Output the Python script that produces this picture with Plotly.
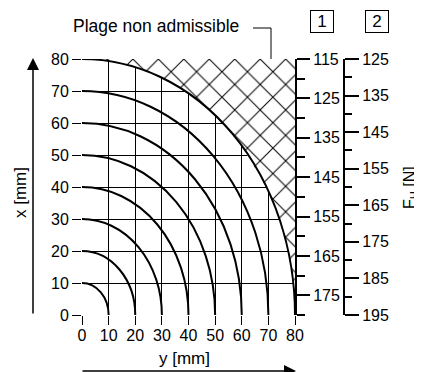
import plotly.graph_objects as go

# ---- data ----
radii = [10, 20, 30, 40, 50, 60, 70, 80]
grid_ticks = [0, 10, 20, 30, 40, 50, 60, 70, 80]
# boundary of the non-admissible zone
zone_y = [0, 10, 20, 30, 40, 50, 60, 70, 75, 78, 79.5, 80]
zone_x = [80, 79.4, 77.5, 74.2, 69.3, 62.4, 52.9, 38.7, 27.8, 17.8, 8.9, 0]
scale1_major = [115, 125, 135, 145, 155, 165, 175]
scale1_minor = [120, 130, 140, 150, 160, 170, 180]
scale1_range = [180, 115]
scale2_major = [125, 135, 145, 155, 165, 175, 185, 195]
scale2_minor = [130, 140, 150, 160, 170, 180, 190]
scale2_range = [195, 125]

FONT = "Liberation Sans, Arial, sans-serif"
OFF = 8  # page body margin
W, H = 422 - OFF, 372 - OFF
ML = 82 - OFF
MT = 59 - OFF
MB = H - (315 - OFF)
MR = 10
PW = W - ML - MR
PH = H - MT - MB


def px(xs):
    return (xs - OFF - ML) / PW


def py(ys):
    return (H - MB - (ys - OFF)) / PH


XD = px(295)

fig = go.Figure()

# hatched zone
fig.add_trace(go.Scatter(
    x=[80] + zone_y + [80],
    y=[80] + zone_x + [80],
    mode="lines", fill="toself", line=dict(width=0, color="black"),
    fillcolor="white",
    fillpattern=dict(shape="x", size=18, solidity=0.11, fgcolor="#000000",
                     fgopacity=1, bgcolor="white"),
    hoverinfo="skip", showlegend=False,
))

# curves
for r in radii:
    fig.add_shape(type="circle", xref="x", yref="y", x0=-r, y0=-r, x1=r, y1=r,
                  line=dict(color="black", width=2), layer="above")

fig.add_trace(go.Scatter(x=[None], y=[None], yaxis="y2", showlegend=False))
fig.add_trace(go.Scatter(x=[None], y=[None], yaxis="y3", showlegend=False))

axis_font = dict(family=FONT, size=16, color="black")

fig.update_layout(
    width=W, height=H,
    margin=dict(l=ML, r=MR, t=MT, b=MB, autoexpand=False),
    paper_bgcolor="white", plot_bgcolor="white",
    font=dict(family=FONT, color="black"),
    showlegend=False,
    xaxis=dict(domain=[0, XD], range=[0, 80], tickvals=grid_ticks,
               showgrid=True, gridcolor="black", gridwidth=1, zeroline=False,
               ticks="outside", ticklen=9, tickcolor="black", tickwidth=1,
               tickfont=axis_font, showline=False, fixedrange=True,
               ticklabelstandoff=-3),
    yaxis=dict(range=[0, 80], tickvals=grid_ticks,
               showgrid=True, gridcolor="black", gridwidth=1, zeroline=False,
               ticks="outside", ticklen=9, tickcolor="black", tickwidth=1,
               tickfont=axis_font, showline=False, fixedrange=True),
    yaxis2=dict(overlaying="y", side="right", anchor="x", range=scale1_range,
                tickvals=scale1_major, ticks="outside", ticklen=13, tickwidth=2,
                tickcolor="black", showline=True, linecolor="black", linewidth=2,
                showgrid=False, zeroline=False, tickfont=axis_font,
                minor=dict(tickvals=scale1_minor, ticks="outside", ticklen=8,
                           tickwidth=2, tickcolor="black", showgrid=False)),
    yaxis3=dict(overlaying="y", side="right", anchor="free", position=px(344),
                range=scale2_range,
                tickvals=scale2_major, ticks="outside", ticklen=14, tickwidth=2,
                tickcolor="black", showline=True, linecolor="black", linewidth=2,
                showgrid=False, zeroline=False, tickfont=axis_font,
                minor=dict(tickvals=scale2_minor, ticks="outside", ticklen=7,
                           tickwidth=2, tickcolor="black", showgrid=False)),
)

ann_font = dict(family=FONT, size=17, color="black")


def label(text, xs, ys, **kw):
    fig.add_annotation(text=text, xref="paper", yref="paper", x=px(xs), y=py(ys),
                       xanchor="center", yanchor="middle", showarrow=False, **kw)


label("Plage non admissible", 155.5, 26, font=dict(family=FONT, size=17.5, color="black"))
fig.add_shape(type="path", xref="paper", yref="paper",
              path=f"M {px(253)} {py(28)} L {px(271)} {py(28)} L {px(271)} {py(59)}",
              line=dict(color="black", width=1))
for t, cx in [("1", 322), ("2", 377)]:
    label(t, cx, 21.5, width=20, height=19, bordercolor="black", borderwidth=1,
          borderpad=1, font=ann_font)
label("x [mm]", 20, 193, textangle=-90, font=ann_font)
label("y [mm]", 184, 358, font=ann_font)
label("F<sub>H</sub> [N]", 410, 188, textangle=-90, font=dict(family=FONT, size=16, color="black"))

# arrows
fig.add_annotation(text="", xref="paper", yref="paper", x=px(33), y=py(58),
                   ax=0, ay=257, axref="pixel", ayref="pixel", showarrow=True,
                   arrowhead=2, arrowsize=1.6, arrowwidth=1.5, arrowcolor="black")
fig.add_annotation(text="", xref="paper", yref="paper", x=px(296), y=py(371),
                   ax=-215, ay=0, axref="pixel", ayref="pixel", showarrow=True,
                   arrowhead=2, arrowsize=1.6, arrowwidth=1.5, arrowcolor="black")

fig.write_html("out.html")
